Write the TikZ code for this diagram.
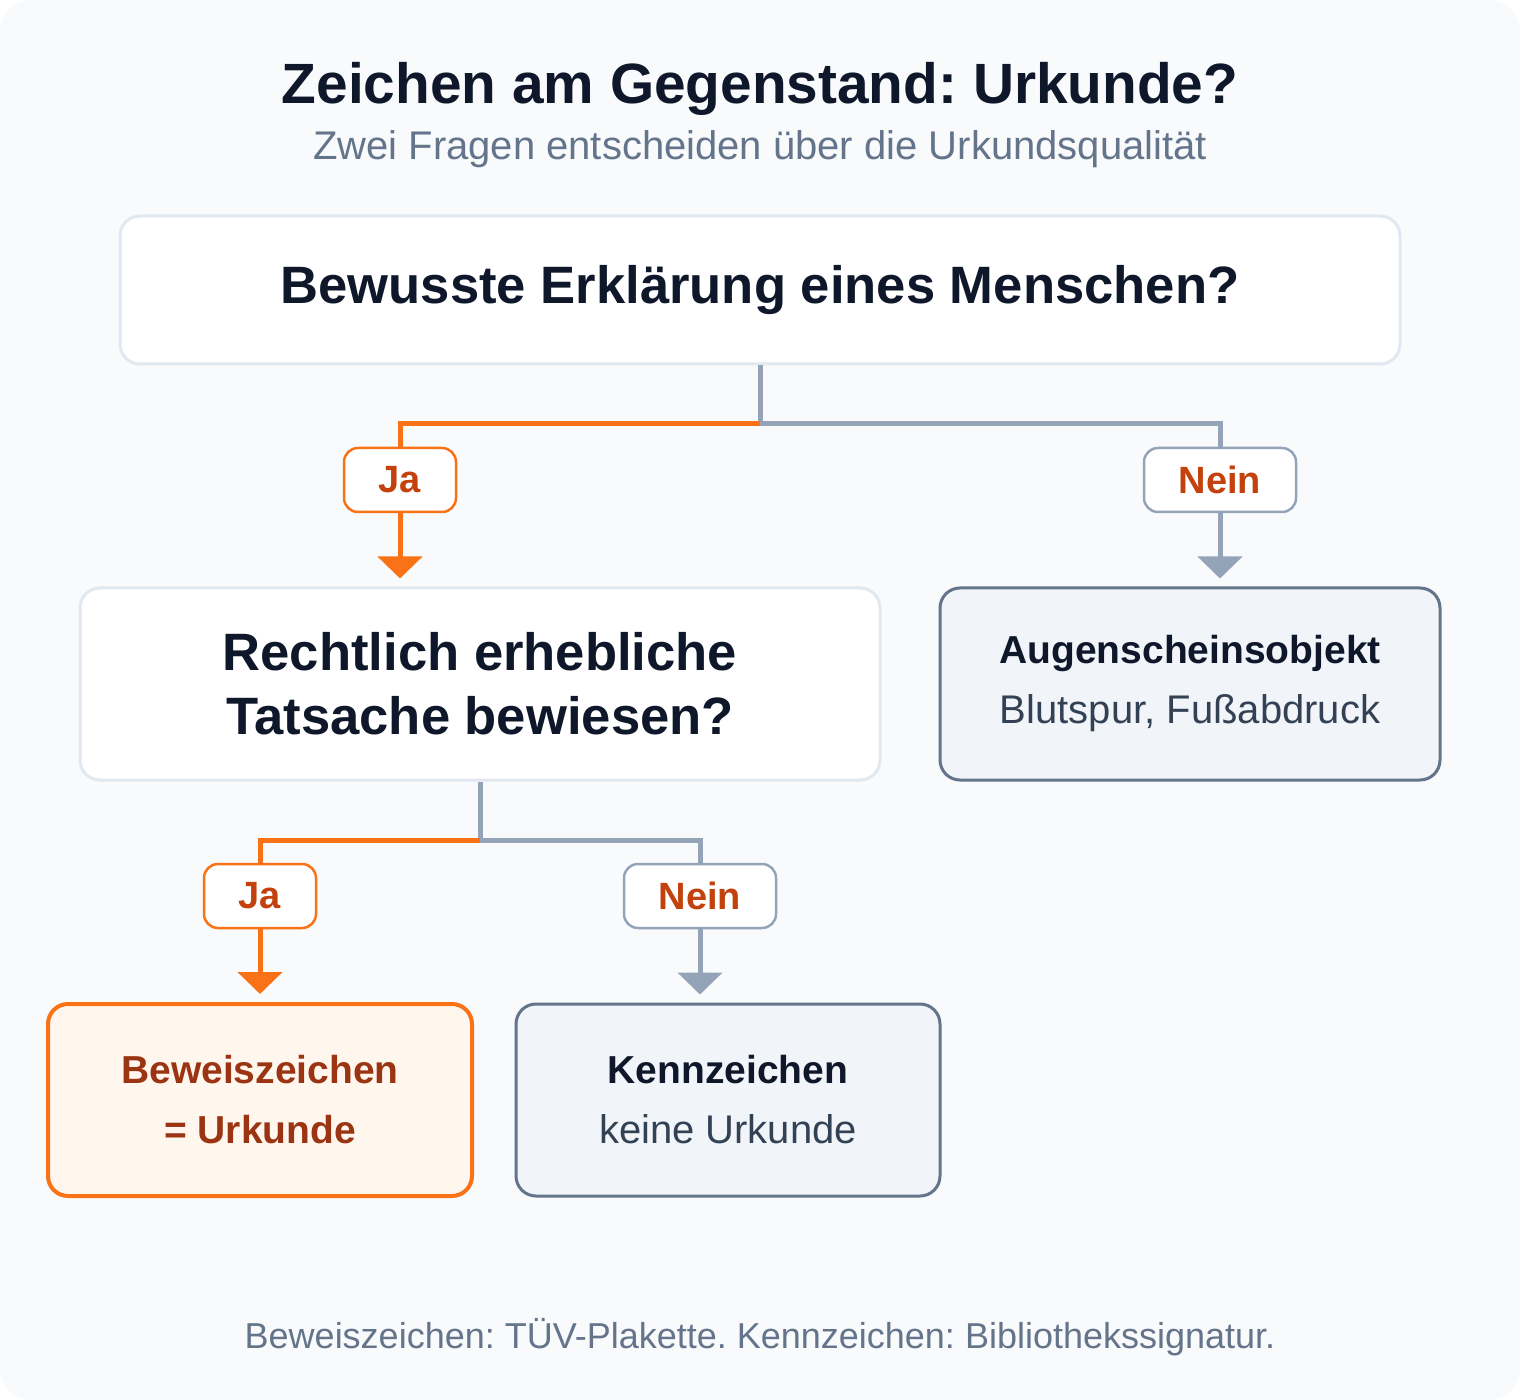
\documentclass[tikz,border=0pt]{standalone}
\usepackage{fontspec}
\setmainfont{Liberation Sans}
\usetikzlibrary{arrows.meta}
\frenchspacing

\definecolor{bgcol}{HTML}{F8FAFC}
\definecolor{inkdark}{HTML}{0F172A}
\definecolor{inkmute}{HTML}{64748B}
\definecolor{inkbody}{HTML}{334155}
\definecolor{linelight}{HTML}{E2E8F0}
\definecolor{linegray}{HTML}{94A3B8}
\definecolor{edgegray}{HTML}{64748B}
\definecolor{fillgray}{HTML}{F1F5F9}
\definecolor{orangeline}{HTML}{F97316}
\definecolor{orangefill}{HTML}{FFF7ED}
\definecolor{orangetext}{HTML}{9A3412}
\definecolor{labeltext}{HTML}{C2410C}

\tikzset{
  qbox/.style={draw=linelight, line width=1.5pt, fill=white, rounded corners=10pt,
    align=center, inner sep=0pt, text=inkdark, font=\bfseries\fontsize{26.3}{32}\selectfont},
  nobox/.style={draw=edgegray, line width=1.5pt, fill=fillgray, rounded corners=10pt,
    align=center, inner sep=0pt, text=inkbody, font=\fontsize{20}{30}\selectfont,
    minimum width=250pt, minimum height=96pt},
  yesbox/.style={draw=orangeline, line width=2pt, fill=orangefill, rounded corners=10pt,
    align=center, inner sep=0pt, text=orangetext, font=\bfseries\fontsize{19.5}{30}\selectfont,
    minimum width=212pt, minimum height=96pt},
  jatag/.style={draw=orangeline, line width=1.25pt, fill=white, rounded corners=7pt,
    inner sep=0pt, minimum width=56pt, minimum height=32pt, text=labeltext,
    font=\bfseries\fontsize{19}{20}\selectfont},
  neintag/.style={jatag, draw=linegray, minimum width=76pt},
  grayline/.style={draw=linegray, line width=2.5pt},
  orline/.style={draw=orangeline, line width=2.5pt},
  downarrow/.style={-{Triangle[length=11pt,width=22pt]}, shorten >=4pt},
}

\begin{document}
\begin{tikzpicture}[x=0.5pt,y=0.5pt,yscale=-1]
\useasboundingbox (0,0) rectangle (1520,1400);

%Background
\fill [bgcol, rounded corners=16pt] (0,0) rectangle (1520,1400);

% Title
\node (title) [anchor=base, text=inkdark, font=\bfseries\fontsize{28.4}{32}\selectfont] at (760,104) {Zeichen am Gegenstand: Urkunde?};
\node (subtitle) [anchor=base, text=inkmute, font=\fontsize{20}{24}\selectfont] at (760,160) {Zwei Fragen entscheiden über die Urkundsqualität};

% Question boxes
\node (q1) [qbox, minimum width=640pt, minimum height=74pt] at (760,290) {Bewusste Erklärung eines Menschen?};
\node (q2) [qbox, minimum width=400pt, minimum height=96pt] at (480,684) {Rechtlich erhebliche\\Tatsache bewiesen?};

% Result boxes
\node (aug) [nobox] at (1190,684) {{\bfseries\fontsize{19.5}{30}\selectfont\color{inkdark}Augenscheinsobjekt}\\Blutspur, Fußabdruck};
\node (bz) [yesbox] at (260,1100) {Beweiszeichen\\= Urkunde};
\node (kz) [nobox, minimum width=212pt] at (728,1100) {{\bfseries\fontsize{19.5}{30}\selectfont\color{inkdark}Kennzeichen}\\keine Urkunde};

% Ja / Nein tags
\node (ja1) [jatag] at (400,480) {Ja};
\node (nein1) [neintag] at (1220,480) {Nein};
\node (ja2) [jatag] at (260,896) {Ja};
\node (nein2) [neintag] at (700,896) {Nein};

%Branch lines, first question
\coordinate (s1) at (760,424);
\draw [grayline] (q1.south) -- (s1) -| (nein1.north);
\draw [orline] (s1) -| (ja1.north);
\draw [orline, downarrow, -{Triangle[length=11pt,width=22pt,fill=orangeline]}] (ja1.south) -- (ja1.south |- q2.north);
\draw [grayline, downarrow] (nein1.south) -- (nein1.south |- aug.north);

%Branch lines, second question
\coordinate (s2) at (480,840);
\draw [grayline] (q2.south) -- (s2) -| (nein2.north);
\draw [orline] (s2) -| (ja2.north);
\draw [orline, downarrow] (ja2.south) -- (ja2.south |- bz.north);
\draw [grayline, downarrow] (nein2.south) -- (nein2.south |- kz.north);

% Footer
\node (foot) [anchor=base, text=inkmute, font=\fontsize{18}{22}\selectfont] at (760,1348) {Beweiszeichen: TÜV-Plakette. Kennzeichen: Bibliothekssignatur.};

\end{tikzpicture}
\end{document}
